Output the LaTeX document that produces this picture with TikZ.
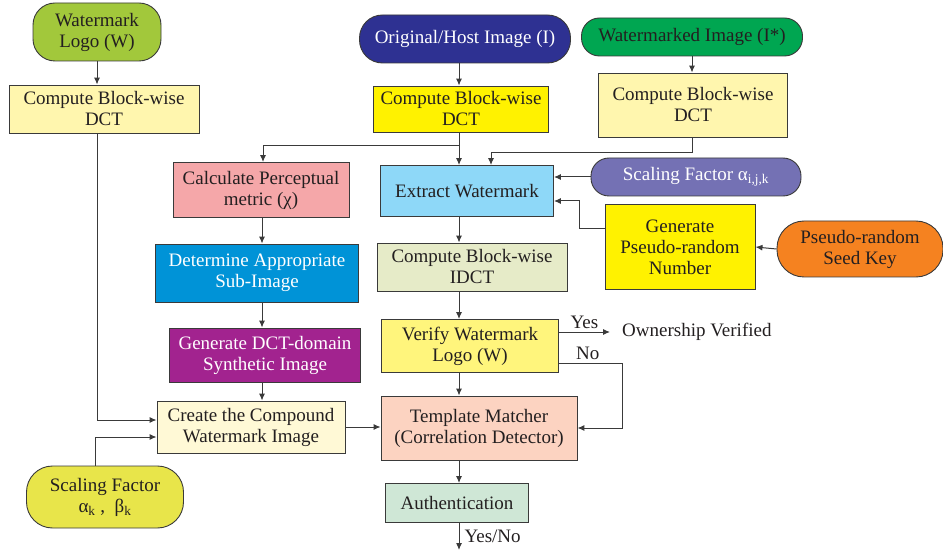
\documentclass[tikz,border=0pt]{standalone}
\usepackage{fontspec}
\setmainfont{Liberation Serif}
\usetikzlibrary{arrows.meta,positioning}
\usepackage{xcolor}
\definecolor{ink}{HTML}{231F20}
\definecolor{edge}{HTML}{3A3A3A}
\definecolor{logogreen}{HTML}{A2C83B}
\definecolor{palebox}{HTML}{FFF6AE}
\definecolor{hostblue}{HTML}{2E3192}
\definecolor{wmgreen}{HTML}{00A651}
\definecolor{brightyellow}{HTML}{FFF200}
\definecolor{extblue}{HTML}{8ED8F8}
\definecolor{scalepurple}{HTML}{7471B4}
\definecolor{seedorange}{HTML}{F58220}
\definecolor{percpink}{HTML}{F5A7A9}
\definecolor{detblue}{HTML}{0093D7}
\definecolor{synpurple}{HTML}{A2238F}
\definecolor{cream}{HTML}{FFF9D6}
\definecolor{scaleyellow}{HTML}{E8E54A}
\definecolor{idctgreen}{HTML}{E6EBC8}
\definecolor{verifyyellow}{HTML}{FFF57C}
\definecolor{tmpeach}{HTML}{FCD3C1}
\definecolor{authgreen}{HTML}{CFE7D6}

\begin{document}
\begin{tikzpicture}[
    x=1pt, y=-1pt,
    font=\fontsize{19}{21}\selectfont,
    every node/.style={text=ink, align=center, inner sep=0pt},
    box/.style={draw=edge, line width=0.9pt},
    pill/.style={draw=edge, line width=0.9pt, rounded corners=#1},
    arr/.style={draw=edge, line width=1pt, -{Latex[length=7pt,width=6pt]}},
    lbl/.style={text=ink}
]
    \useasboundingbox (0,0) rectangle (943,556);

    % embedding side
    \node[pill=22pt, fill=logogreen, minimum width=128pt, minimum height=58pt] (wl) at (97,32) {Watermark\\Logo (W)};
    \node[box, fill=palebox, minimum width=190pt, minimum height=48pt] (dctL) at (104,109) {Compute Block-wise\\DCT};
    \node[box, fill=percpink, minimum width=176pt, minimum height=55pt] (perc) at (261,190) {Calculate Perceptual\\metric (χ)};
    \node[box, fill=detblue, text=white, minimum width=203pt, minimum height=58pt] (det) at (257,273) {Determine Appropriate\\Sub-Image};
    \node[box, fill=synpurple, text=white, minimum width=191pt, minimum height=54pt] (syn) at (265,355) {Generate DCT-domain\\Synthetic Image};
    \node[box, fill=cream, minimum width=188pt, minimum height=52pt] (cmp) at (251,427) {Create the Compound\\Watermark Image};
    \node[pill=26pt, fill=scaleyellow, minimum width=157pt, minimum height=62pt] (sk) at (105,497) {Scaling Factor\\α\textsubscript{k} ,\enspace β\textsubscript{k}};

    % extraction side
    \node[pill=23pt, fill=hostblue, text=white, minimum width=211pt, minimum height=48pt] (host) at (465,39) {Original/Host Image (I)};
    \node[box, fill=brightyellow, minimum width=175pt, minimum height=46pt] (dctM) at (461,109) {Compute Block-wise\\DCT};
    \node[pill=18pt, fill=wmgreen, minimum width=221pt, minimum height=38pt] (wi) at (692,37) {Watermarked Image (I*)};
    \node[box, fill=palebox, minimum width=189pt, minimum height=64pt] (dctR) at (693,105) {Compute Block-wise\\DCT};
    \node[box, fill=extblue, minimum width=173pt, minimum height=51pt] (ext) at (467,191) {Extract Watermark};
    \node[pill=18pt, fill=scalepurple, text=white, minimum width=210pt, minimum height=38pt] (sij) at (696,177) {Scaling Factor α\textsubscript{i,j,k}};
    \node[box, fill=brightyellow, minimum width=150pt, minimum height=85pt] (gpr) at (680,247) {Generate\\Pseudo-random\\Number};
    \node[pill=27pt, fill=seedorange, minimum width=166pt, minimum height=56pt] (seed) at (860,249) {Pseudo-random\\Seed Key};
    \node[box, fill=idctgreen, minimum width=190pt, minimum height=48pt] (idct) at (472,267) {Compute Block-wise\\IDCT};
    \node[box, fill=verifyyellow, minimum width=177pt, minimum height=53pt] (ver) at (470,346) {Verify Watermark\\Logo (W)};
    \node[box, fill=tmpeach, minimum width=196pt, minimum height=64pt] (tm) at (479,428) {Template Matcher\\(Correlation Detector)};
    \node[box, fill=authgreen, minimum width=143pt, minimum height=39pt] (auth) at (457,503) {Authentication};
    \node[anchor=west] (ov) at (622,332) {Ownership Verified};

    \coordinate (spine) at (459,0);
    \coordinate (br) at (459,146);
    \coordinate (lane) at (262,0);
    \coordinate (join) at (491,153);
    \coordinate (out) at (459,550);

    % connectors
    \draw[arr] (wl.south) -- (wl.south |- dctL.north);
    \draw[arr] (dctL.south -| wl) |- ([yshift=7pt]cmp.west);
    \draw[arr] ([xshift=-10pt]sk.north) |- ([yshift=-10pt]cmp.west);
    \draw[arr] (perc.south -| lane) -- (det.north -| lane);
    \draw[arr] (det.south -| lane) -- (syn.north -| lane);
    \draw[arr] (syn.south -| lane) -- (cmp.north -| lane);
    \draw[arr] (cmp.east) -- (cmp.east -| tm.west);

    \draw[arr] (host.south -| spine) -- (dctM.north -| spine);
    \draw[arr] (dctM.south -| spine) -- (ext.north -| spine);
    \draw[arr] (br) -| ([xshift=2pt]perc.north);
    \draw[arr] (wi.south) -- (wi.south |- dctR.north);
    \draw[arr] (dctR.south -| wi) |- (join) -- (join |- ext.north);
    \draw[arr] (sij.west) -- (sij.west -| ext.east);
    \draw[arr] ([yshift=18pt]gpr.west) -| ([xshift=26pt,yshift=-10pt]ext.east) -- ([yshift=-10pt]ext.east);
    \draw[arr] (seed.west) -- (gpr.east);
    \draw[arr] (ext.south -| spine) -- (idct.north -| spine);
    \draw[arr] (idct.south -| spine) -- (ver.north -| spine);
    \draw[arr] (ver.south -| spine) -- (tm.north -| spine);
    \draw[arr] (tm.south -| spine) -- (auth.north -| spine);
    \draw[arr] (auth.south -| spine) -- node[right=5pt] (yn) {Yes/No} (out);
    \draw[arr] ([yshift=14pt]ver.east) -- node[above=3pt] (yes) {Yes} ([xshift=-12pt]ov.west);
    \draw[arr] ([yshift=-17pt]ver.east) -- node[above=3pt, pos=0.45] (no) {No} ++(64,0) |- (tm.east);
\end{tikzpicture}
\end{document}
